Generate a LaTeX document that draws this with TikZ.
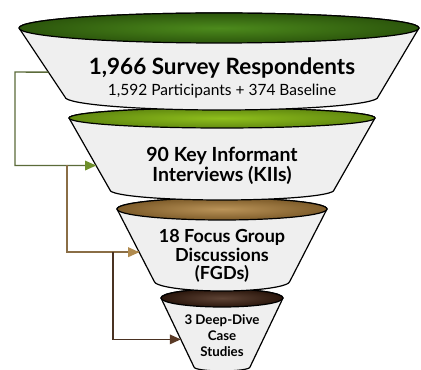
\documentclass[tikz,border=0pt]{standalone}
\usepackage{fontspec}
\setmainfont{Lato}
\usetikzlibrary{arrows.meta,calc}
\definecolor{gA}{HTML}{4C8A1C}
\definecolor{gAd}{HTML}{2C560C}
\definecolor{gB}{HTML}{8EBE1C}
\definecolor{gBd}{HTML}{628A10}
\definecolor{tC}{HTML}{B48A4A}
\definecolor{tCd}{HTML}{7E5C2A}
\definecolor{bD}{HTML}{4C2E1E}
\definecolor{bDd}{HTML}{2A160C}
\definecolor{bodyc}{HTML}{EFEFEF}
\definecolor{ln1}{HTML}{5B6B3A}
\definecolor{ah1}{HTML}{6E8F2A}
\definecolor{ln2}{HTML}{8A6E46}
\definecolor{ah2}{HTML}{B08A4E}
\definecolor{ln3}{HTML}{4A3222}
\definecolor{ah3}{HTML}{5A3A26}
\tikzset{
  body/.style={fill=bodyc, draw=black, line width=1.2pt, line join=round},
  rim/.style={draw=black, line width=1.2pt},
  conn/.style={line width=1.4pt},
  big/.style={font=\bfseries\fontsize{22.5}{24}\selectfont, anchor=base, inner sep=0pt},
  small/.style={font=\fontsize{15.5}{17}\selectfont, anchor=base, inner sep=0pt},
  midA/.style={font=\bfseries\fontsize{19.5}{21}\selectfont, anchor=base, inner sep=0pt},
  midB/.style={font=\bfseries\fontsize{18}{20}\selectfont, anchor=base, inner sep=0pt},
  tiny/.style={font=\bfseries\fontsize{13.3}{15}\selectfont, anchor=base, inner sep=0pt}
}
\begin{document}
\begin{tikzpicture}[x=1pt,y=1pt]
\useasboundingbox (0,0) rectangle (421,370);
\fill[white] (0,0) rectangle (421,370);
% ---- tier 4 (back) ----
\coordinate (t4tl) at (161,72);
\coordinate (t4tr) at (283,72);
\coordinate (t4bl) at (194,3);
\coordinate (t4br) at (250,3);
\draw[body] (t4tl) -- (t4bl) arc[start angle=180,end angle=360,x radius=28,y radius=4] -- (t4tr) arc[start angle=0,end angle=180,x radius=61,y radius=9] -- cycle;
\shade[inner color=bD!90!white, outer color=bDd] (222,72) ellipse[x radius=61,y radius=9];
\draw[rim] (222,72) ellipse[x radius=61,y radius=9];
% ---- tier 3 ----
\coordinate (t3tl) at (117,161);
\coordinate (t3tr) at (327,161);
\coordinate (t3bl) at (154,89);
\coordinate (t3br) at (290,89);
\draw[body] (t3tl) -- (t3bl) arc[start angle=180,end angle=360,x radius=68,y radius=10] -- (t3tr) arc[start angle=0,end angle=180,x radius=105,y radius=11] -- cycle;
\shade[inner color=tC!92!white, outer color=tCd] (222,161) ellipse[x radius=105,y radius=11];
\draw[rim] (222,161) ellipse[x radius=105,y radius=11];
% ---- tier 2 ----
\coordinate (t2tl) at (69,252);
\coordinate (t2tr) at (375,252);
\coordinate (t2bl) at (110,180);
\coordinate (t2br) at (334,180);
\draw[body] (t2tl) -- (t2bl) arc[start angle=180,end angle=360,x radius=112,y radius=10] -- (t2tr) arc[start angle=0,end angle=180,x radius=153,y radius=10] -- cycle;
\shade[inner color=gB, outer color=gBd] (222,252) ellipse[x radius=153,y radius=10];
\draw[rim] (222,252) ellipse[x radius=153,y radius=10];
% ---- tier 1 ----
\coordinate (t1tl) at (19,342);
\coordinate (t1tr) at (419,342);
\coordinate (t1bl) at (65,273);
\coordinate (t1br) at (378,273);
\draw[body] (t1tl) -- (t1bl) arc[start angle=180,end angle=360,x radius=156.5,y radius=13] -- (t1tr) arc[start angle=0,end angle=180,x radius=200,y radius=15] -- cycle;
\shade[inner color=gA, outer color=gAd] (219,342) ellipse[x radius=200,y radius=15];
\draw[rim] (219,342) ellipse[x radius=200,y radius=15];
% ---- texts ----
\node[big] (t1a) at (222,295) {1,966 Survey Respondents};
\node[small] (t1b) at (222,274) {1,592 Participants + 374 Baseline};
\node[midA] (t2a) at (222,208) {90 Key Informant};
\node[midA] (t2b) at (222,188) {Interviews (KIIs)};
\node[midB] (t3a) at (222,127) {18 Focus Group};
\node[midB] (t3b) at (222,108) {Discussions};
\node[midB] (t3c) at (222,90) {(FGDs)};
\node[tiny] (t4a) at (222,45) {3 Deep-Dive};
\node[tiny] (t4b) at (222,29) {Case};
\node[tiny] (t4c) at (222,13) {Studies};
% ---- connectors ----
\coordinate (c1s) at ($(t1tl)!0.64!(t1bl)$);
\coordinate (c1e) at ($(t2tl)!0.66!(t2bl)$);
\coordinate (c2s) at (67,205);
\coordinate (c2e) at ($(t3tl)!0.60!(t3bl)$);
\coordinate (c3s) at (113,118);
\coordinate (c3e) at ($(t4tl)!0.60!(t4bl)$);
\draw[conn, draw=ln1] (c1s) -- (15,298) |- (c1e);
\fill[ah1] (c1e) -- ++(-11,5) -- ++(0,-10) -- cycle;
\draw[conn, draw=ln2] (c2s) |- (c2e);
\fill[ah2] (c2e) -- ++(-11,5) -- ++(0,-10) -- cycle;
\draw[conn, draw=ln3] (c3s) |- (c3e);
\fill[ah3] (c3e) -- ++(-11,5) -- ++(0,-10) -- cycle;
\end{tikzpicture}
\end{document}
